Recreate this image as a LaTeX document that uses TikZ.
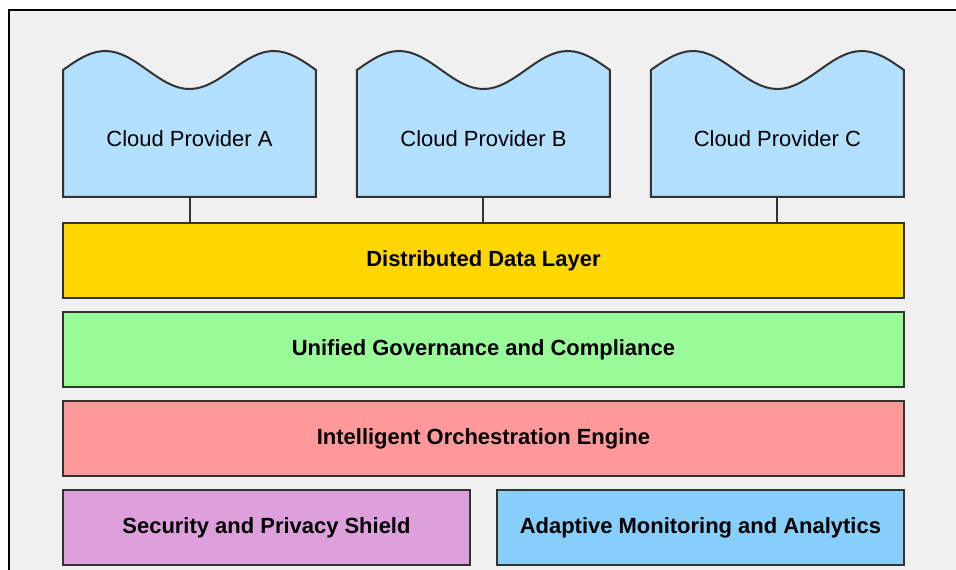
\documentclass[tikz,border=0pt]{standalone}
\usepackage{fontspec}
\setmainfont{Liberation Sans}
\usetikzlibrary{positioning}
\definecolor{cloudblue}{HTML}{B3E0FF}
\definecolor{datagold}{HTML}{FFD700}
\definecolor{govgreen}{HTML}{98FB98}
\definecolor{orchred}{HTML}{FF9999}
\definecolor{secplum}{HTML}{DDA0DD}
\definecolor{monblue}{HTML}{87CEFA}
\definecolor{edgegray}{HTML}{333333}
\definecolor{panelgray}{HTML}{F0F0F0}
\pgfdeclarelayer{background}
\pgfsetlayers{background,main}
\tikzset{
  provider/.style={minimum width=5.06cm,minimum height=2.54cm,outer sep=0pt,
    text height=0.54cm,text depth=0pt,font=\fontsize{12.5}{15}\selectfont},
  layer/.style={draw=edgegray,line width=0.04cm,minimum width=16.82cm,
    minimum height=1.5cm,font=\fontsize{12.5}{15}\selectfont\bfseries},
  halflayer/.style={layer,minimum width=8.14cm},
  link/.style={draw=edgegray,line width=0.04cm}
}

\begin{document}
\begin{tikzpicture}[x=0.02cm,y=0.02cm]
  \useasboundingbox(0,0)rectangle(956,570);
  \clip(0,0)rectangle(956,570);
  % providers on top
  \node[provider](provA)at(189.5,436.5){Cloud Provider A};
  \node[provider,right=0.82cm of provA](provB){Cloud Provider B};
  \node[provider,right=0.82cm of provB](provC){Cloud Provider C};
  % stacked layers
  \node[layer,fill=datagold,below=0.5cm of provB](data){Distributed Data Layer};
  \node[layer,fill=govgreen,below=0.24cm of data](gov){Unified Governance and Compliance};
  \node[layer,fill=orchred,below=0.24cm of gov](orch){Intelligent Orchestration Engine};
  \node[halflayer,fill=secplum,below=0.24cm of orch.south west,anchor=north west](sec)
    {Security and Privacy Shield};
  \node[halflayer,fill=monblue,below=0.24cm of orch.south east,anchor=north east](mon)
    {Adaptive Monitoring and Analytics};
  \foreach \p in {provA,provB,provC}
    \draw[link](\p.south)--(\p.south|-data.north);
  \begin{pgfonlayer}{background}
    \draw[fill=panelgray,line width=0.04cm](9,560)rectangle(1000,-20);
    % wavy tops of the provider boxes
    \foreach \p in {provA,provB,provC}
      \draw[link,fill=cloudblue](\p.south west)--(\p.north west)
        sin++(42.17,19)cos++(42.17,-19)sin++(42.17,-19)cos++(42.17,19)
        sin++(42.17,19)cos(\p.north east)--(\p.south east)--cycle;
  \end{pgfonlayer}
\end{tikzpicture}
\end{document}
